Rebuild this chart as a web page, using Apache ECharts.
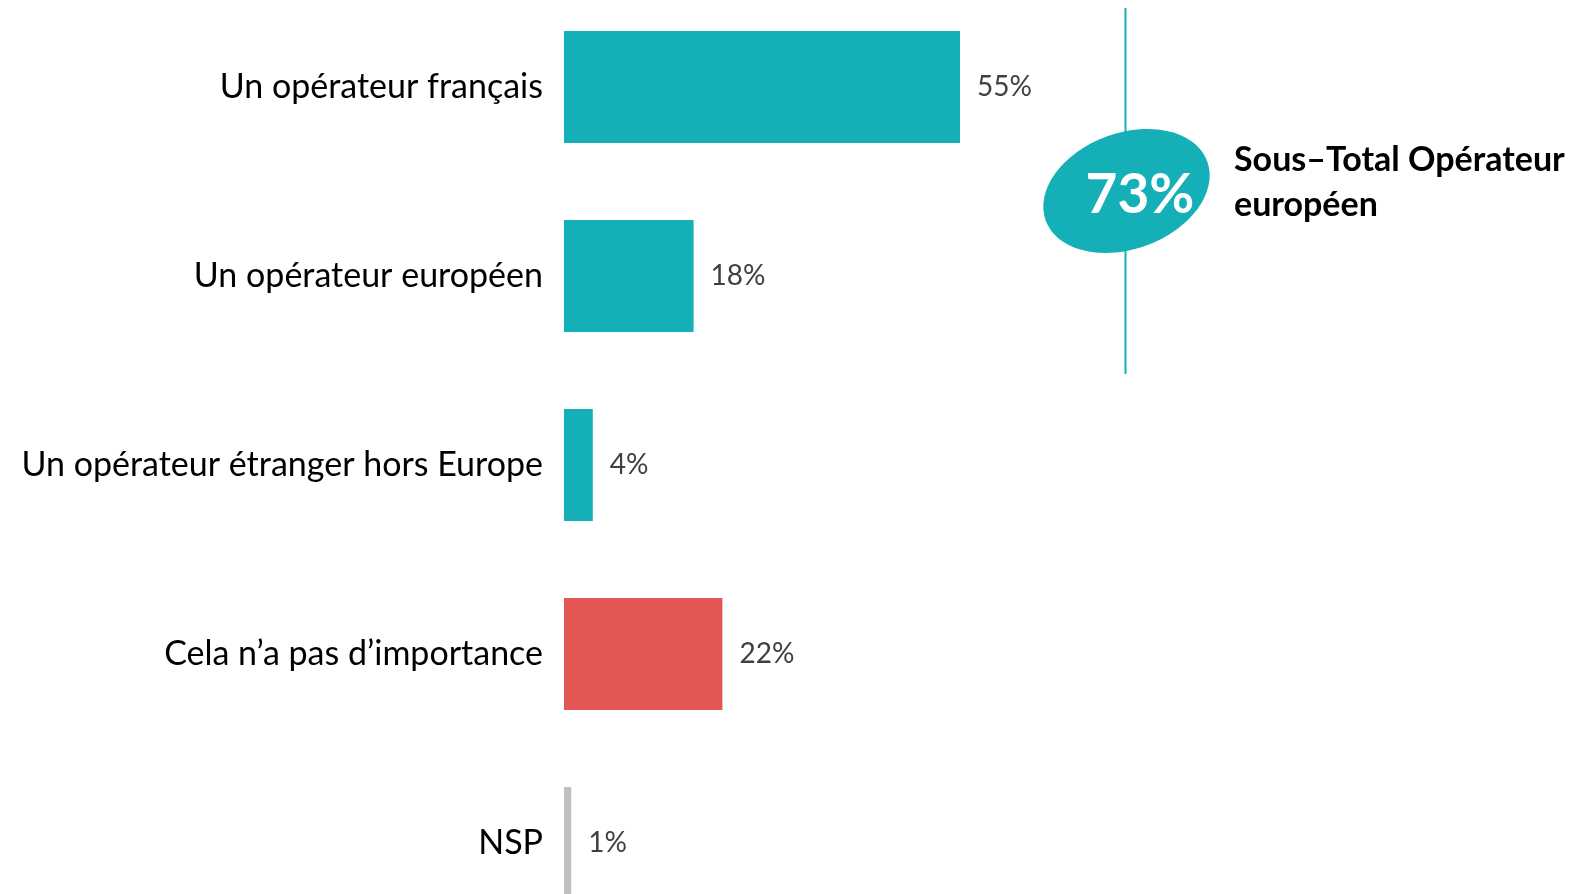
<!DOCTYPE html>
<html>
<head>
<meta charset="utf-8">
<script src="https://cdn.jsdelivr.net/npm/echarts@6/dist/echarts.min.js"></script>
<style>
html,body{margin:0;padding:0;background:#fff;overflow:hidden;width:1587px;height:894px;}
#chart{position:absolute;left:0;top:-8px;width:1587px;height:946px;}
</style>
</head>
<body>
<div id="chart"></div>
<script>
const categories = [
  "Un opérateur français",
  "Un opérateur européen",
  "Un opérateur étranger hors Europe",
  "Cela n’a pas d’importance",
  "NSP"
];
const values = [55, 18, 4, 22, 1];
const subtotalValue = 73;
const subtotalLabel = "Sous–Total Opérateur\neuropéen";

const barColors = ["#14AFB7", "#14AFB7", "#14AFB7", "#E35654", "#BFBFBF"];
const teal = "#14AFB7";
const FONT = "Lato, 'Open Sans', sans-serif";
const OFF = 8; // container offset (div starts 8px above the viewport)

const chart = echarts.init(document.getElementById('chart'), null, {renderer: 'canvas'});

const option = {
  backgroundColor: '#ffffff',
  animation: false,
  grid: {left: 564, top: 0.5, width: 720, height: 945, containLabel: false},
  xAxis: {
    type: 'value', min: 0, max: 100, show: false
  },
  yAxis: {
    type: 'category',
    data: categories,
    inverse: true,
    axisLine: {show: false},
    axisTick: {show: false},
    splitLine: {show: false},
    axisLabel: {
      color: '#000000',
      fontSize: 34,
      fontFamily: FONT,
      margin: 21
    }
  },
  series: [{
    type: 'bar',
    data: values.map((v, i) => ({value: v, itemStyle: {color: barColors[i]}})),
    barWidth: 112,
    label: {
      show: true,
      position: 'right',
      distance: 17,
      formatter: '{c}%',
      color: '#404040',
      fontSize: 28,
      fontFamily: FONT
    }
  }],
  graphic: [
    {
      type: 'line',
      z: 10,
      shape: {x1: 1125.5, y1: 8 + OFF, x2: 1125.5, y2: 374 + OFF},
      style: {stroke: teal, lineWidth: 2}
    },
    {
      type: 'ellipse',
      z: 11,
      x: 1126.5, y: 191 + OFF,
      rotation: 0.35,
      shape: {cx: 0, cy: 0, rx: 86, ry: 58},
      style: {fill: teal}
    },
    {
      type: 'text',
      z: 12,
      x: 1140, y: 195 + OFF,
      style: {
        text: subtotalValue + '%',
        fill: '#ffffff',
        font: 'bold 55px ' + FONT,
        textAlign: 'center',
        textVerticalAlign: 'middle'
      }
    },
    {
      type: 'text',
      z: 12,
      x: 1234, y: 137.5 + OFF,
      style: {
        text: subtotalLabel,
        fill: '#000000',
        font: 'bold 34px ' + FONT,
        lineHeight: 45,
        textAlign: 'left',
        textVerticalAlign: 'top'
      }
    }
  ]
};
chart.setOption(option);
</script>
</body>
</html>
